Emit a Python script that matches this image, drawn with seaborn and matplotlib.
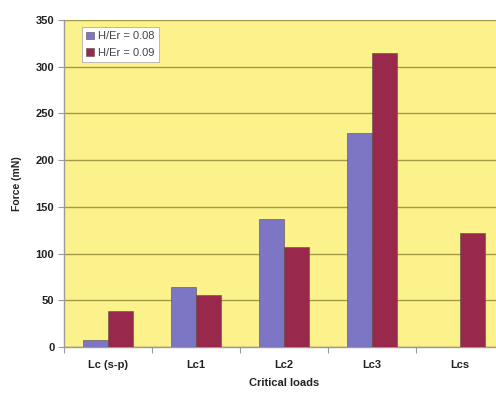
import numpy as np
import pandas as pd
import matplotlib
matplotlib.use("Agg")
import matplotlib.pyplot as plt
import seaborn as sns
from matplotlib.ticker import FixedLocator

categories = ["Lc (s-p)", "Lc1", "Lc2", "Lc3", "Lcs"]
series_names = ["H/Er = 0.08", "H/Er = 0.09"]
force_008 = [7, 64, 137, 229, 0]
force_009 = [38, 56, 107, 315, 122]
y_ticks = [0, 50, 100, 150, 200, 250, 300, 350]

df = pd.DataFrame({
    "load": categories * 2,
    "series": [series_names[0]] * len(categories) + [series_names[1]] * len(categories),
    "force": force_008 + force_009,
})

sns.set_theme(style="white")
plt.rcParams["font.family"] = ["Liberation Sans", "DejaVu Sans"]

fig = plt.figure(figsize=(4.96, 3.94), dpi=100)
fig.patch.set_facecolor("white")
W, H = 496, 394
ax = fig.add_axes([64 / W, 1 - 347 / H, 440 / W, 327 / H])
ax.set_facecolor("#fcf28c")

palette = {series_names[0]: "#7d76c4", series_names[1]: "#98284c"}
sns.barplot(data=df, x="load", y="force", hue="series", order=categories,
            hue_order=series_names, palette=palette, width=0.57, saturation=1,
            edgecolor="#5a4a4a", linewidth=0.4, ax=ax, zorder=3)

ax.set_ylim(0, 350)
ax.set_xlim(-0.5, 4.5)
ax.set_yticks(y_ticks)
ax.yaxis.grid(True, color="#a49a45", linewidth=1.0, zorder=0)
ax.set_axisbelow(True)

for s in ["top", "right"]:
    ax.spines[s].set_visible(False)
for s in ["left", "bottom"]:
    ax.spines[s].set_color("#9a9a9a")
    ax.spines[s].set_linewidth(1.0)

ax.tick_params(axis="y", which="major", length=4, width=0.8, color="#9a9a9a",
               direction="out", pad=3, labelsize=8, left=True)
ax.tick_params(axis="x", which="major", length=0, pad=9, labelsize=8)
ax.xaxis.set_minor_locator(FixedLocator(np.arange(-0.5, 5.0, 1.0)))
ax.tick_params(axis="x", which="minor", length=4, width=0.8, color="#9a9a9a",
               direction="out", bottom=True)
for lbl in ax.get_xticklabels() + ax.get_yticklabels():
    lbl.set_fontweight("bold")
    lbl.set_color("#222222")

ax.set_xlabel("Critical loads", fontsize=8, fontweight="bold", color="#222222", labelpad=6)
ax.set_ylabel("Force (mN)", fontsize=7.5, fontweight="bold", color="#222222", labelpad=10)

leg = ax.legend(loc="upper left", bbox_to_anchor=(18 / 440, 1 - 7 / 327),
                fontsize=8, frameon=True, fancybox=False, borderpad=0.4,
                handlelength=0.7, handleheight=0.7, handletextpad=0.3,
                labelspacing=0.55, borderaxespad=0)
leg.get_frame().set_edgecolor("#b0b0b0")
leg.get_frame().set_linewidth(0.6)
leg.get_frame().set_alpha(1.0)
for t in leg.get_texts():
    t.set_color("#444444")

fig.savefig("out.png", dpi=100, facecolor="white")
